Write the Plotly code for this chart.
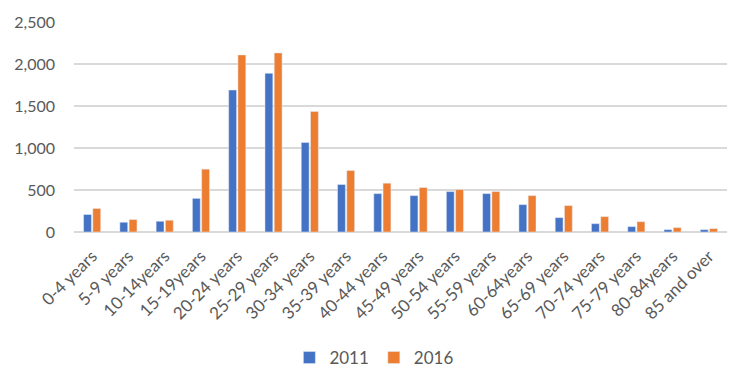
import plotly.graph_objects as go

categories = ["0-4 years", "5-9 years", "10-14years", "15-19years", "20-24 years",
              "25-29 years", "30-34 years", "35-39 years", "40-44 years", "45-49 years",
              "50-54 years", "55-59 years", "60-64years", "65-69 years", "70-74 years",
              "75-79 years", "80-84years", "85 and over"]
values_2011 = [208, 116, 128, 400, 1690, 1889, 1066, 565, 457, 433, 481, 457, 326, 171, 99, 64, 28, 28]
values_2016 = [280, 148, 140, 748, 2108, 2132, 1436, 732, 581, 529, 505, 481, 433, 314, 183, 123, 52, 40]

font_family = "Lato, Open Sans, sans-serif"
grey = "#595959"

fig = go.Figure()
fig.add_trace(go.Bar(name="2011", x=categories, y=values_2011, marker_color="#4472C4"))
fig.add_trace(go.Bar(name="2016", x=categories, y=values_2016, marker_color="#ED7D31"))

# page body has an 8px default margin, so the figure is sized 742x381
fig.update_layout(
    width=742, height=381,
    margin=dict(l=66, r=23, t=14, b=157),
    paper_bgcolor="white", plot_bgcolor="white",
    barmode="group", bargap=0.49, bargroupgap=0.15,
    font=dict(family=font_family, size=16, color=grey),
    legend=dict(orientation="h", x=0.46, xanchor="center", y=-0.6, yanchor="middle",
                font=dict(size=17, color=grey), itemwidth=30),
    xaxis=dict(tickangle=-45, showgrid=False, showline=False, ticks="", automargin=False,
               ticklabelstandoff=10, tickfont=dict(size=17, color=grey)),
    yaxis=dict(range=[0, 2500], dtick=500, tickformat=",", showgrid=True, automargin=False,
               gridcolor="#D9D9D9", gridwidth=1.5, zeroline=True, zerolinecolor="#D9D9D9",
               zerolinewidth=1.5, showline=False, ticks="", ticklabelstandoff=18,
               tickfont=dict(size=16, color=grey)),
)

fig.write_html("out.html")
